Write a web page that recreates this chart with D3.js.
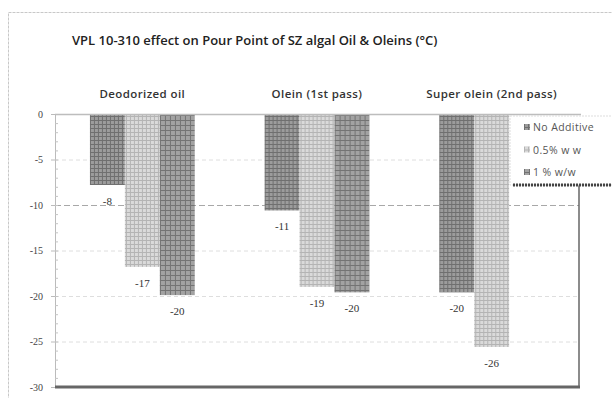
<!DOCTYPE html>
<html>
<head>
<meta charset="utf-8">
<script src="https://cdn.jsdelivr.net/npm/d3@7"></script>
<style>
  body { margin: 0; background: #fff; }
  svg { display: block; }
</style>
</head>
<body>
<script>
// chart values
var categories = ["Deodorized oil", "Olein (1st pass)", "Super olein (2nd pass)"];
var seriesNames = ["No Additive", "0.5% w w", "1 % w/w"];
var noAdditive = [-7.8, -10.6, -19.6];
var halfPct = [-16.8, -19.0, -25.6];
var onePct = [-19.9, -19.6, null];
var yTicks = [0, -5, -10, -15, -20, -25, -30];
var title = "VPL 10-310 effect on Pour Point of SZ algal Oil & Oleins (°C)";

var W = 612, H = 398;
var plot = {left: 55, right: 579, top: 114, bottom: 387};

var svg = d3.select("body").append("svg")
  .attr("width", W)
  .attr("height", H);

// patterns for the bars
var defs = svg.append("defs");
function makePattern(id, bg, fg, step) {
  var p = defs.append("pattern")
    .attr("id", id)
    .attr("patternUnits", "userSpaceOnUse")
    .attr("width", step).attr("height", step);
  p.append("rect").attr("width", step).attr("height", step).attr("fill", bg);
  p.append("rect").attr("width", step).attr("height", 1).attr("fill", fg);
  p.append("rect").attr("width", 1).attr("height", step).attr("fill", fg);
}
makePattern("pat0", "#9c9c9c", "#6f6f6f", 4);
makePattern("pat1", "#dadada", "#b4b4b4", 4);
makePattern("pat2", "#a2a2a2", "#737373", 5);
var fills = ["url(#pat0)", "url(#pat1)", "url(#pat2)"];

// outer frame
svg.append("rect")
  .attr("x", 8.5).attr("y", 12.5)
  .attr("width", 640).attr("height", 420)
  .attr("fill", "none")
  .attr("stroke", "#c8c8c8")
  .attr("stroke-dasharray", "3,1");

// title
svg.append("text")
  .attr("x", 72).attr("y", 45)
  .style("font-family", "'Open Sans', sans-serif")
  .style("font-size", "13px")
  .style("font-weight", "600")
  .attr("fill", "#222")
  .text(title);

// scales
var x0 = d3.scaleBand()
  .domain(categories)
  .range([plot.left, plot.right])
  .paddingInner(0.4)
  .paddingOuter(0.2);
var x1 = d3.scaleBand()
  .domain(d3.range(seriesNames.length))
  .range([0, x0.bandwidth()]);
var y = d3.scaleLinear()
  .domain([-30, 0])
  .range([plot.bottom, plot.top]);

// gridlines
svg.append("g").selectAll("line")
  .data(yTicks.filter(d => d < 0 && d > -30))
  .join("line")
  .attr("x1", plot.left).attr("x2", plot.right)
  .attr("y1", d => y(d) + 0.5).attr("y2", d => y(d) + 0.5)
  .attr("stroke", d => d === -10 ? "#a8a8a8" : "#dedede")
  .attr("stroke-dasharray", d => d === -10 ? "6,3" : "4,3");

// y axis (plain hyphen minus like the original)
var axeY = d3.axisLeft(y)
  .tickValues(yTicks)
  .tickSize(4)
  .tickFormat(d => String(d));
var groupeY = svg.append("g")
  .attr("transform", `translate(${plot.left},0)`)
  .call(axeY);
groupeY.select(".domain").attr("stroke", "#bbb");
groupeY.selectAll(".tick line").attr("stroke", "#bbb");
groupeY.selectAll("text")
  .attr("x", -12)
  .style("font-family", "'Liberation Serif', serif")
  .style("font-size", "10px")
  .attr("fill", "#444");
// minor ticks
svg.append("g").selectAll("line")
  .data(d3.range(-30, 1, 1))
  .join("line")
  .attr("x1", plot.left).attr("x2", plot.left + 3)
  .attr("y1", d => y(d) + 0.5).attr("y2", d => y(d) + 0.5)
  .attr("stroke", "#c4c4c4");

// bars
var rows = categories.map((c, i) => ({
  cat: c,
  vals: [noAdditive[i], halfPct[i], onePct[i]]
}));
var groups = svg.append("g").selectAll("g")
  .data(rows)
  .join("g")
  .attr("transform", d => `translate(${x0(d.cat)},0)`);

groups.selectAll("rect")
  .data(d => d.vals.map((v, k) => ({k: k, v: v})).filter(e => e.v !== null))
  .join("rect")
  .attr("x", e => x1(e.k))
  .attr("y", y(0))
  .attr("width", x1.bandwidth())
  .attr("height", e => y(e.v) - y(0))
  .attr("fill", e => fills[e.k]);

groups.selectAll("text.lbl")
  .data(d => d.vals.map((v, k) => ({k: k, v: v})).filter(e => e.v !== null))
  .join("text")
  .attr("class", "lbl")
  .attr("x", e => x1(e.k) + x1.bandwidth() / 2)
  .attr("y", e => y(e.v) + 20)
  .attr("text-anchor", "middle")
  .style("font-family", "'Liberation Serif', serif")
  .style("font-size", "11px")
  .attr("fill", "#333")
  .text(e => String(Math.round(e.v)));

// zero line
svg.append("line")
  .attr("x1", plot.left).attr("x2", plot.right + 2)
  .attr("y1", y(0) + 0.5).attr("y2", y(0) + 0.5)
  .attr("stroke", "#bdbdbd").attr("stroke-width", 1.5);

// category labels (above the plot)
svg.append("g").selectAll("text")
  .data(categories)
  .join("text")
  .attr("x", d => x0(d) + x0.bandwidth() / 2)
  .attr("y", 98)
  .attr("text-anchor", "middle")
  .style("font-family", "'Open Sans', sans-serif")
  .style("font-size", "11.5px")
  .style("font-weight", "600")
  .style("letter-spacing", "0.4px")
  .attr("fill", "#333")
  .text(d => d);

// plot border: right and bottom
svg.append("line")
  .attr("x1", plot.right).attr("x2", plot.right)
  .attr("y1", 185).attr("y2", plot.bottom)
  .attr("stroke", "#666").attr("stroke-width", 1.5);
svg.append("line")
  .attr("x1", plot.left).attr("x2", plot.right + 1)
  .attr("y1", plot.bottom).attr("y2", plot.bottom)
  .attr("stroke", "#666").attr("stroke-width", 3);

// legend
var legend = svg.append("g").attr("transform", "translate(510,116)");
legend.append("rect")
  .attr("width", 110).attr("height", 69)
  .attr("fill", "#fff")
  .attr("stroke", "#ddd")
  .attr("stroke-dasharray", "2,1");
legend.append("line")
  .attr("x1", 3).attr("x2", 110)
  .attr("y1", 69).attr("y2", 69)
  .attr("stroke", "#444").attr("stroke-width", 3)
  .attr("stroke-dasharray", "2,1");
var items = legend.selectAll("g.item")
  .data(seriesNames)
  .join("g")
  .attr("class", "item")
  .attr("transform", (d, i) => `translate(14,${11 + i * 22.5})`);
items.append("rect")
  .attr("x", 0).attr("y", -3)
  .attr("width", 6).attr("height", 6)
  .attr("fill", (d, i) => fills[i]);
items.append("text")
  .attr("x", 9).attr("y", 4)
  .style("font-family", "'Open Sans', sans-serif")
  .style("font-size", "10.5px")
  .style("letter-spacing", "0.4px")
  .attr("fill", "#555")
  .text(d => d);
</script>
</body>
</html>
